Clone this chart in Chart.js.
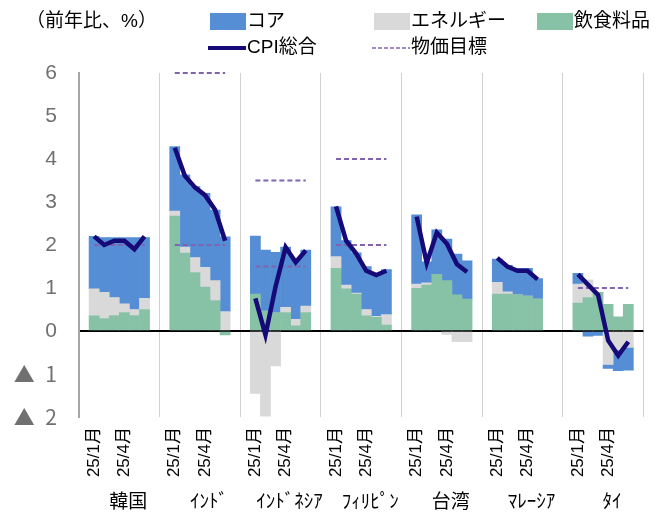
<!DOCTYPE html>
<html>
<head>
<meta charset="utf-8">
<script src="https://cdn.jsdelivr.net/npm/chart.js@4"></script>
<style>
  html, body { margin: 0; padding: 0; background: #fff; }
  #wrap { width: 669px; height: 513px; }
</style>
</head>
<body>
<div id="wrap"><canvas id="cpiChart"></canvas></div>
<script>
const countries = ['韓国', 'ｲﾝﾄﾞ', 'ｲﾝﾄﾞﾈｼｱ', 'ﾌｨﾘﾋﾟﾝ', '台湾', 'ﾏﾚｰｼｱ', 'ﾀｲ'];
// 8 slots per country: blank, 25/1..25/6, blank
const monthTicks = ['', '25/1月', '', '', '25/4月', '', '', ''];

// contributions (pt), Jan-Jun 2025, one row per country
const core = [
  [1.22, 1.27, 1.39, 1.54, 1.67, 1.41],
  [1.50, 1.68, 1.65, 1.72, 1.64, 1.74],
  [1.35, 1.41, 1.40, 1.40, 1.42, 1.30],
  [1.16, 1.03, 0.94, 1.00, 0.98, 1.05],
  [1.61, 0.49, 1.03, 0.97, 0.95, 0.89],
  [0.54, 0.62, 0.62, 0.65, 0.48, null],
  [0.25, -0.12, -0.10, -0.09, -0.48, -0.53]
];
const energy = [
  [0.63, 0.61, 0.42, 0.20, 0.14, 0.26],
  [0.12, 0.14, 0.35, 0.46, 0.46, 0.45],
  [-1.45, -1.98, -0.81, 0.12, 0.15, 0.15],
  [0.27, 0.09, 0.02, 0.15, 0.02, 0.24],
  [0.10, 0.05, 0.00, -0.08, -0.25, -0.25],
  [0.27, 0.05, 0.00, 0.00, 0.00, null],
  [0.44, 0.41, 0.00, -0.78, -0.44, -0.38]
];
const food = [
  [0.35, 0.29, 0.36, 0.43, 0.36, 0.50],
  [2.67, 1.81, 1.36, 1.02, 0.71, -0.09],
  [0.86, 0.47, 0.43, 0.43, 0.12, 0.43],
  [1.46, 0.98, 0.86, 0.35, 0.32, 0.14],
  [0.99, 1.07, 1.32, 1.17, 0.84, 0.74],
  [0.86, 0.86, 0.84, 0.81, 0.74, null],
  [0.65, 0.78, 0.90, 0.62, 0.33, 0.62]
];
const cpi = [
  [2.2, 2.0, 2.1, 2.1, 1.9, 2.2],
  [4.26, 3.61, 3.34, 3.16, 2.82, 2.10],
  [0.76, -0.09, 1.03, 1.95, 1.60, 1.87],
  [2.9, 2.1, 1.8, 1.4, 1.3, 1.4],
  [2.66, 1.58, 2.29, 2.03, 1.55, 1.37],
  [1.7, 1.5, 1.4, 1.4, 1.2, null],
  [1.32, 1.08, 0.84, -0.22, -0.57, -0.25]
];
// inflation targets (lower / upper band)
const targetLow = [2, 2, 1.5, 2, null, null, 1];
const targetHigh = [null, 6, 3.5, 4, null, null, null];

const FONT = '"Liberation Sans", "Noto Sans CJK JP", sans-serif';
const CJK = '"Noto Sans CJK JP", "Liberation Sans", sans-serif';

function spread(rows) {
  const out = [];
  rows.forEach(r => {
    out.push(null);
    for (let i = 0; i < 6; i++) out.push(r[i] === undefined ? null : r[i]);
    out.push(null);
  });
  return out;
}
function flatTarget(vals) {
  return spread(vals.map(v => [v, v, v, v, v, v]));
}

const labels = [];
countries.forEach(() => monthTicks.forEach(t => labels.push(t)));

const colCore = '#558ed5';
const colEnergy = '#d9d9d9';
const colFood = '#88c2a6';
const colCpi = '#160a78';
const colTarget = '#8064b0';

// legend + unit label drawn on top
const topLegend = {
  id: 'topLegend',
  afterDraw(chart) {
    const c = chart.ctx;
    c.save();
    c.font = '19px ' + FONT;
    c.fillStyle = '#000';
    c.textBaseline = 'middle';
    c.fillText('（前年比、%）', 26, 22);

    const boxes = [['コア', colCore, 210], ['エネルギー', colEnergy, 374], ['飲食料品', colFood, 537]];
    boxes.forEach(b => {
      c.fillStyle = b[1];
      c.fillRect(b[2], 13, 36, 17);
      c.fillStyle = '#000';
      c.fillText(b[0], b[2] + 37, 22);
    });

    c.strokeStyle = colCpi;
    c.lineWidth = 4;
    c.beginPath(); c.moveTo(208, 48); c.lineTo(246, 48); c.stroke();
    c.fillText('CPI総合', 247, 48);

    c.strokeStyle = colTarget;
    c.lineWidth = 1.5;
    c.setLineDash([4, 2]);
    c.beginPath(); c.moveTo(372, 48); c.lineTo(410, 48); c.stroke();
    c.setLineDash([]);
    c.fillText('物価目標', 411, 48);
    c.restore();
  }
};

const ctx = document.getElementById('cpiChart').getContext('2d');

new Chart(ctx, {
  type: 'bar',
  data: {
    labels: labels,
    datasets: [
      { label: '飲食料品', data: spread(food), backgroundColor: colFood, stack: 'bars' },
      { label: 'エネルギー', data: spread(energy), backgroundColor: colEnergy, stack: 'bars' },
      { label: 'コア', data: spread(core), backgroundColor: colCore, stack: 'bars' },
      {
        type: 'line', label: 'CPI総合', data: spread(cpi), stack: 'cpi',
        borderColor: colCpi, borderWidth: 4.5, pointRadius: 0, order: -2
      },
      {
        type: 'line', label: '物価目標', data: flatTarget(targetLow), stack: 'tLow',
        borderColor: colTarget, borderWidth: 2, borderDash: [5, 3], pointRadius: 0, order: -1, clip: 4
      },
      {
        type: 'line', label: '物価目標(上限)', data: flatTarget(targetHigh), stack: 'tHigh',
        borderColor: colTarget, borderWidth: 2, borderDash: [5, 3], pointRadius: 0, order: -1, clip: 4
      }
    ]
  },
  options: {
    responsive: true,
    maintainAspectRatio: false,
    animation: false,
    barPercentage: 1,
    categoryPercentage: 1,
    layout: { padding: { top: 73, right: 25, left: 0, bottom: 0 } },
    plugins: {
      legend: { display: false },
      tooltip: { enabled: false }
    },
    scales: {
      x: {
        type: 'category',
        offset: true,
        weight: 0,
        grid: {
          offset: true,
          tickLength: 0,
          lineWidth: 1,
          color: (c) => (c.index === undefined || c.index % 8 === 0) ? '#d0d0d0' : 'rgba(0,0,0,0)'
        },
        border: { display: false },
        ticks: {
          autoSkip: false,
          minRotation: 90,
          maxRotation: 90,
          padding: 10,
          color: '#000',
          font: { family: FONT, size: 17 }
        },
        afterFit: (s) => { s.height = 66; }
      },
      x2: {
        type: 'category',
        labels: countries,
        position: 'bottom',
        offset: true,
        weight: 1,
        grid: { display: false },
        border: { display: false },
        ticks: {
          autoSkip: false,
          maxRotation: 0,
          padding: 0,
          labelOffset: 9,
          color: '#000',
          font: { family: FONT, size: 19 }
        },
        afterFit: (s) => { s.height = 30; }
      },
      y: {
        stacked: true,
        min: -2,
        max: 6,
        grid: {
          tickLength: 0,
          lineWidth: 2,
          color: (c) => (c.tick && c.tick.value === 0) ? '#000' : 'rgba(0,0,0,0)'
        },
        border: { display: true, color: '#a6a6a6', width: 2 },
        ticks: {
          stepSize: 1,
          padding: 22,
          color: '#707070',
          font: (c) => ({ family: (c.tick && c.tick.value < 0) ? CJK : FONT, size: 21 }),
          callback: (v) => v < 0 ? '▲\u2002' + Math.abs(v) : String(v)
        },
        afterFit: (s) => { s.width = 79; }
      }
    }
  },
  plugins: [topLegend]
});
</script>
</body>
</html>
